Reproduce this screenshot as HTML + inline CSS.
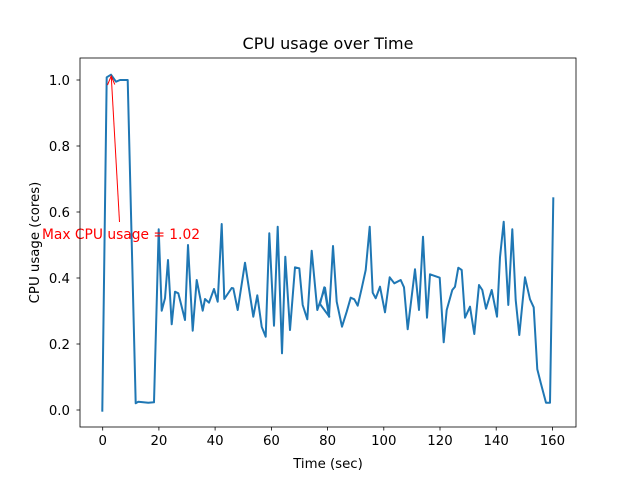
<!DOCTYPE html>
<html><head><meta charset="utf-8"><style>
html,body{margin:0;padding:0;background:#fff;}
svg{display:block;font-family:"DejaVu Sans","Liberation Sans",sans-serif;}
</style></head><body>
<svg width="640" height="480" viewBox="0 0 640 480" xmlns="http://www.w3.org/2000/svg">
<rect width="640" height="480" fill="#fff"/>
<polyline fill="none" stroke="#1f77b4" stroke-width="2" stroke-linejoin="round" stroke-linecap="square" points="
102.3,410.7 106.7,77.3 111,74.7 116,81.7 120,80 127.7,80 135.7,403.3 138.3,401.7 148.3,402.7 154,402.3 158.7,229.3 161.7,310.7 165,298.3 168,260 171.7,324.3 175,291.7 178.3,293.3 181.7,306.7 185,320 188,245 192.7,330.7 196.7,280 202.7,310.7 205,299 209,302.7 214,289 217.7,301.7 221.7,224 224.3,299 231.7,288 233.3,288.3 237.7,310 245,262.7 253.3,316.7 257.3,295.3 261.7,326.7 265.7,336.7 269.3,233.3 274,325.7 277.7,226.7 282,353.3 285.3,256.7 290,330 295,267.3 299.3,268.3 302.7,305 307.3,319.3 311.7,250.7 317.3,310 325,287.7 329.3,316.7
320,304 324.3,287.3 329,316.7 333,246 336.7,301.7 342,326.7 346.7,311.7 350.7,297.7 354.3,299.3 357.7,305.7 361.7,288.3 365.7,270 369.7,226.7 372.7,292.7 375.7,298.3 380,286.7 385,312.3 389.7,277.3 394.3,283.3 400.7,280 404,287.3 407.7,329.3 415,269.3 419,310 423,236.7 427,317.7 430,274.3 439.7,277.7 443.7,342.3 446.7,310 452.3,290 455,286.7 458.3,267.7 461.7,270 465,317.7 470,306.7 474.3,334 479,285 482.3,290 486,308.7 491.7,290 497,316.7 500,257.3 503.7,221.7 508.3,305 512.3,229.3 515.7,300 519.3,335 525,277.3 530,299.3 533.7,307.3 537.3,369.3 540.7,382.7 546,402.7 550,402.7 553.3,198.3"/>
<line x1="119.5" y1="222" x2="111.3" y2="77" stroke="red" stroke-width="1"/>
<polyline points="107.5,85 111.2,76 114.8,84.5" fill="none" stroke="red" stroke-width="1"/>
<text x="42" y="239" font-size="13.9" fill="red" textLength="158" lengthAdjust="spacingAndGlyphs">Max CPU usage = 1.02</text>
<rect x="80" y="58" width="496" height="369" fill="none" stroke="#000" stroke-width="0.8"/>
<g stroke="#000" stroke-width="0.8">
<line x1="102.7" y1="427" x2="102.7" y2="430.5"/>
<line x1="158.9" y1="427" x2="158.9" y2="430.5"/>
<line x1="215.1" y1="427" x2="215.1" y2="430.5"/>
<line x1="271.4" y1="427" x2="271.4" y2="430.5"/>
<line x1="327.6" y1="427" x2="327.6" y2="430.5"/>
<line x1="383.8" y1="427" x2="383.8" y2="430.5"/>
<line x1="440" y1="427" x2="440" y2="430.5"/>
<line x1="496.2" y1="427" x2="496.2" y2="430.5"/>
<line x1="552.4" y1="427" x2="552.4" y2="430.5"/>
<line x1="76.5" y1="410" x2="80" y2="410"/>
<line x1="76.5" y1="344" x2="80" y2="344"/>
<line x1="76.5" y1="278" x2="80" y2="278"/>
<line x1="76.5" y1="212" x2="80" y2="212"/>
<line x1="76.5" y1="146" x2="80" y2="146"/>
<line x1="76.5" y1="80" x2="80" y2="80"/>
</g>
<g font-size="13.3" fill="#000" text-anchor="middle">
<text x="102.7" y="445">0</text>
<text x="158.9" y="445">20</text>
<text x="215.1" y="445">40</text>
<text x="271.4" y="445">60</text>
<text x="327.6" y="445">80</text>
<text x="383.8" y="445">100</text>
<text x="440" y="445">120</text>
<text x="496.2" y="445">140</text>
<text x="552.4" y="445">160</text>
</g>
<g font-size="13.3" fill="#000" text-anchor="end">
<text x="70" y="415">0.0</text>
<text x="70" y="349">0.2</text>
<text x="70" y="283">0.4</text>
<text x="70" y="217">0.6</text>
<text x="70" y="151">0.8</text>
<text x="70" y="85">1.0</text>
</g>
<text x="328" y="468" font-size="13.3" text-anchor="middle">Time (sec)</text>
<text transform="translate(39,242.5) rotate(-90)" font-size="13.3" text-anchor="middle">CPU usage (cores)</text>
<text x="328" y="49" font-size="16" text-anchor="middle">CPU usage over Time</text>
</svg>
</body></html>
